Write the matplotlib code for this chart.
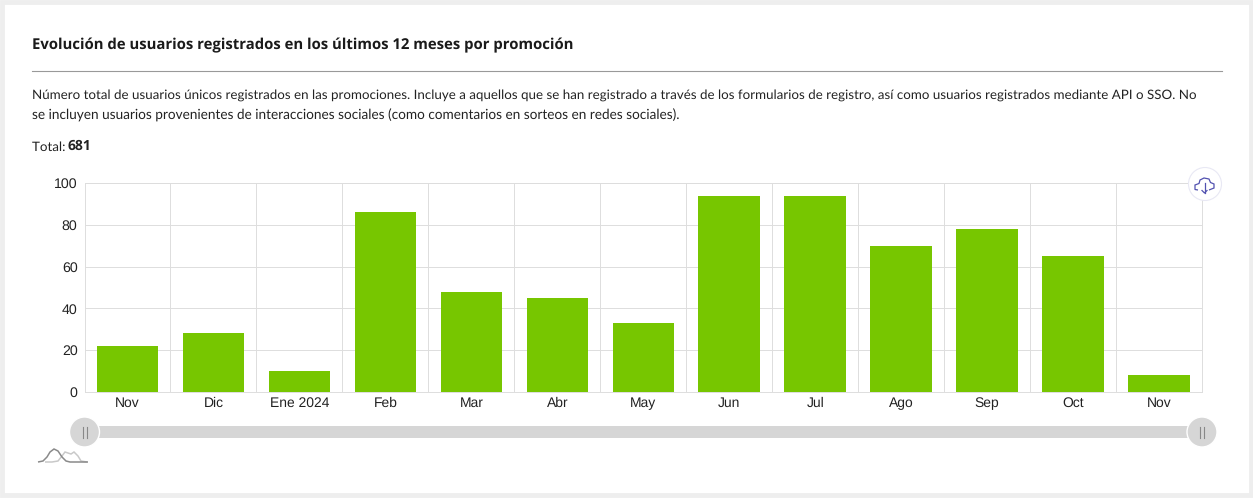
import matplotlib
matplotlib.use('Agg')
import matplotlib.pyplot as plt
from matplotlib.patches import Circle, Rectangle, PathPatch
from matplotlib.path import Path
import numpy as np

W, H = 1253, 498

# data
meses = ['Nov', 'Dic', 'Ene 2024', 'Feb', 'Mar', 'Abr', 'May', 'Jun', 'Jul', 'Ago', 'Sep', 'Oct', 'Nov']
usuarios = [22, 28, 10, 86, 48, 45, 33, 94, 94, 70, 78, 65, 8]
y_ticks = [0, 20, 40, 60, 80, 100]

titulo = 'Evolución de usuarios registrados en los últimos 12 meses por promoción'
linea1 = ('Número total de usuarios únicos registrados en las promociones. Incluye a aquellos que se han '
          'registrado a través de los formularios de registro, así como usuarios registrados mediante API o SSO. No')
linea2 = 'se incluyen usuarios provenientes de interacciones sociales (como comentarios en sorteos en redes sociales).'

plt.rcParams['font.family'] = ['Lato', 'DejaVu Sans']
plt.rcParams['text.hinting'] = 'no_hinting'
VERDE = '#77c600'
GRIS = '#dddddd'
TEXTO = '#222222'

fig = plt.figure(figsize=(W / 100, H / 100), dpi=100, facecolor='white')

# overlay in pixel coordinates, y going down
bg = fig.add_axes([0, 0, 1, 1], zorder=0)
bg.set_xlim(0, W)
bg.set_ylim(H, 0)
bg.axis('off')
bg.add_patch(Rectangle((1.5, 1.5), W - 4, H - 5, fc='white', ec='#eeeeee', lw=3.5))

bg.text(32, 45.5, titulo, fontsize=10.76, fontweight='bold', family='Open Sans', color='#1a1a1a', va='center')
bg.plot([32, 1222], [70.5, 70.5], color='#999999', lw=0.8)
bg.text(32, 95, linea1, fontsize=9.65, color=TEXTO, va='center')
bg.text(32, 115, linea2, fontsize=9.8, color=TEXTO, va='center')
bg.text(32, 147, 'Total: ', fontsize=9.65, color=TEXTO, va='center')
bg.text(68, 146.5, '681', fontsize=10, fontweight='bold', family='Open Sans', color=TEXTO, va='center')

# chart
ax = fig.add_axes([84.5 / W, 1 - 392 / H, (1202 - 84.5) / W, (392 - 183) / H], zorder=1)
ax.patch.set_alpha(0)
x = np.arange(len(meses))
ax.bar(x, usuarios, width=0.715, color=VERDE, zorder=3)
ax.set_xlim(-0.5, len(meses) - 0.5)
ax.set_ylim(0, 100)
ax.set_yticks(y_ticks)
ax.set_xticks(x)
ax.set_xticklabels(meses, family='Liberation Sans')
ax.set_yticklabels([str(v) for v in y_ticks], family='Liberation Sans')
ax.set_xticks(x[:-1] + 0.5, minor=True)
ax.tick_params(axis='both', which='both', length=0)
ax.tick_params(axis='x', labelsize=10, labelcolor=TEXTO, pad=3.4)
ax.tick_params(axis='y', labelsize=10.2, labelcolor=TEXTO, pad=5)
ax.grid(True, axis='y', color=GRIS, lw=0.7, zorder=0)
ax.grid(True, axis='x', which='minor', color=GRIS, lw=0.7, zorder=0)
for s in ax.spines.values():
    s.set_color(GRIS)
    s.set_linewidth(0.7)

# top overlay: slider and icons
fg = fig.add_axes([0, 0, 1, 1], zorder=2)
fg.set_xlim(0, W)
fg.set_ylim(H, 0)
fg.axis('off')
fg.patch.set_alpha(0)

fg.add_patch(Rectangle((99, 426), 1090, 12, fc='#d6d6d6', ec='none'))
for cx in [84.5, 1202]:
    fg.add_patch(Circle((cx, 432), 15, fc='#d6d6d6', ec='white', lw=1))
    for dx in [-2, 2]:
        fg.plot([cx + dx, cx + dx], [426.5, 437.5], color='#888888', lw=0.8)

# small density icon under the slider
claro = Path([(45, 462), (52, 462), (58, 461), (62, 456), (65, 452), (68, 453), (71, 454), (74, 452), (78, 456), (81, 461), (87, 462)])
oscuro = Path([(38, 462), (43, 461), (47, 457), (50, 452), (54, 449), (58, 451), (62, 457), (66, 461), (70, 462), (88, 462)])
fg.add_patch(PathPatch(claro, fc='none', ec='#c9c9c9', lw=1.1))
fg.add_patch(PathPatch(oscuro, fc='none', ec='#8a8a8a', lw=1.1))

# download button
fg.add_patch(Circle((1205, 184), 16.5, fc='white', ec='#e8e8f4', lw=0.8))
nube = Path([(1198, 190), (1195, 189.5), (1195, 185), (1199, 183.5), (1200, 180), (1204, 178), (1209, 179), (1210.5, 182.5),
             (1214, 184), (1214, 188), (1209, 190)])
fg.add_patch(PathPatch(nube, fc='none', ec='#5252b0', lw=0.9))
fg.plot([1204.5, 1204.5], [183, 193], color='#5252b0', lw=0.9)
fg.plot([1202, 1204.5, 1207], [190.5, 193, 190.5], color='#5252b0', lw=0.9)

fig.savefig('out.png', dpi=100, facecolor='white')
